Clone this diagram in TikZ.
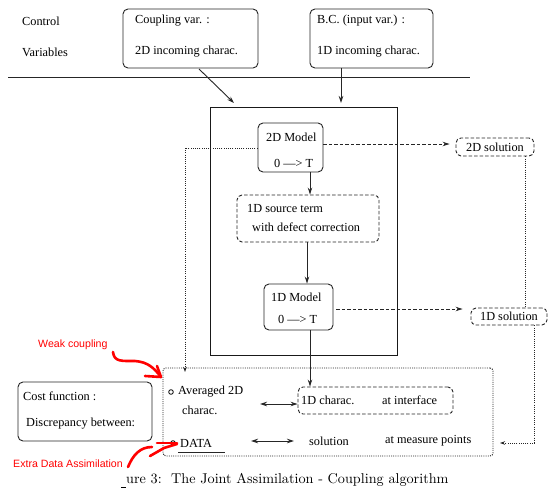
\documentclass[tikz,border=0pt]{standalone}
\usepackage{fontspec}
\setmainfont{Liberation Serif}
\newfontfamily\redfont{Liberation Sans}
\newfontfamily\capfont{lmroman10-regular}[Extension=.otf]
\usetikzlibrary{arrows.meta}
\begin{document}
\begin{tikzpicture}[x=1pt,y=-1pt,
  every node/.style={font=\fontsize{12.3}{14}\selectfont},
  txt/.style={anchor=west,inner sep=0pt},
  rbox/.style={draw=black!85,line width=0.9pt,rounded corners=5pt,inner sep=0pt},
  dbox/.style={draw=black!85,line width=0.9pt,rounded corners=5pt,dashed,dash pattern=on 3.5pt off 2pt,inner sep=0pt},
  arr/.style={-{Stealth[length=7pt,width=4.5pt]},line width=0.9pt,black!85},
  darr/.style={{Stealth[length=7pt,width=4.5pt]}-{Stealth[length=7pt,width=4.5pt]},line width=0.9pt,black!85},
  dasharr/.style={-{Stealth[length=7pt,width=4.5pt]},line width=0.9pt,black!85,dash pattern=on 3.5pt off 2pt},
  dotline/.style={line width=0.9pt,black!85,dash pattern=on 1pt off 1.2pt},
  redtxt/.style={anchor=west,inner sep=0pt,text=red,font=\redfont\fontsize{10.6}{12}\selectfont},
  redarr/.style={draw=red,line width=2.6pt,line cap=round,line join=round}
]
\useasboundingbox (0,0) rectangle (560,503);
\fill[white] (0,0) rectangle (560,503);

% top
\node[txt] (ctl) at (22,21) {Control};
\node[txt] (var) at (22,52) {Variables};
\node[rbox,minimum width=135pt,minimum height=59pt] (cv) at (190.5,38.5) {};
\node[txt] (cv1) at (135,21) {Coupling var. :};
\node[txt] (cv2) at (135,52) {2D incoming charac.};
\node[rbox,minimum width=123pt,minimum height=59pt] (bc) at (371.5,38.5) {};
\node[txt] (bc1) at (317,21) {B.C. (input var.) :};
\node[txt] (bc2) at (317,52) {1D incoming charac.};
\coordinate (l1) at (8,77);
\coordinate (l2) at (470,77);
\draw[line width=0.9pt,black!85] (l1) -- (l2);

% big box
\node[draw=black!90,line width=1pt,minimum width=187pt,minimum height=247pt,inner sep=0pt] (big) at (303.5,231.5) {};
\coordinate (cvend) at (234,103);
\coordinate (bcend) at (341,103);
\draw[arr] (199,69) -- (cvend);
\draw[arr] (bc.south -| bcend) -- (bcend);

% 2D model
\node[rbox,minimum width=65pt,minimum height=49pt] (m2) at (290.5,147.5) {};
\node[txt] at (266,137) {2D Model};
\node[txt] at (274,163) {0 ---> T};
% source
\node[dbox,minimum width=142pt,minimum height=47pt] (src) at (308,218.5) {};
\node[txt] at (247,208) {1D source term};
\node[txt] at (252,227) {with defect correction};
% 1D model
\node[rbox,minimum width=69pt,minimum height=46pt] (m1) at (298.5,307) {};
\node[txt] at (271,297) {1D Model};
\node[txt] at (278,319) {0 ---> T};

\draw[arr] (m2.south -| 310,0) -- (src.north -| 310,0);
\draw[arr] (src.south -| 307,0) -- (m1.north -| 307,0);

% solutions
\node[dbox,minimum width=78pt,minimum height=18pt] (s2) at (495,147) {2D solution};
\node[dbox,minimum width=76pt,minimum height=17pt] (s1) at (509,316.5) {1D solution};
\draw[dasharr] (m2.east |- 0,144) -- ([xshift=-6pt]s2.west |- 0,144);
\draw[dasharr] ([xshift=3pt]m1.east |- 0,309) -- ([xshift=-8pt]s1.west |- 0,309);
\draw[dotline] (s2.south -| 525,0) -- (s1.north -| 525,0);
\coordinate (mp) at (500,443);
\draw[dotline,-{Stealth[length=5pt,width=3.5pt]}] (s1.south -| 534,0) -- (534,443) -- (mp);

% cost area
\node[draw=black!85,line width=0.9pt,dash pattern=on 1pt off 1.2pt,rounded corners=3pt,minimum width=330pt,minimum height=88pt,inner sep=0pt] (area) at (328,412) {};
\coordinate (dtop) at (185,372);
\draw[dotline,-{Stealth[length=5pt,width=3.5pt]}] (m2.west |- 0,148) -- (185,148) -- (dtop);

\draw[line width=0.8pt] (171,392) circle (2.3pt);
\node[txt] (avg) at (178,392) {Averaged 2D};
\node[txt] (chr) at (182,410) {charac.};
\node[dbox,minimum width=155pt,minimum height=27pt] (ch1) at (375.5,400.5) {};
\node[txt] at (301,400) {1D charac.};
\node[txt] at (382,400) {at interface};
\draw[arr] (m1.south -| 310,0) -- (ch1.north -| 310,0);
\coordinate (da1) at (260,404);
\draw[darr] (da1) -- (ch1.west |- da1);

\draw[line width=0.8pt] (173,443) circle (2.3pt);
\node[txt] (data) at (180,443) {DATA};
\draw[line width=0.9pt,black!85] (178,452.5) -- (225,452.5);
\coordinate (db1) at (251,441);
\coordinate (db2) at (294,441);
\draw[darr] (db1) -- (db2);
\node[txt] (sol) at (309,441) {solution};
\node[txt] (amp) at (385,441) {at measure points};

% cost function
\node[rbox,minimum width=134pt,minimum height=59pt] (cost) at (85,411.5) {};
\node[txt] at (23,396) {Cost function :};
\node[txt] at (26,424) {Discrepancy between:};

% red annotations
\node[redtxt] (wc) at (38,345) {Weak coupling};
\node[redtxt] (eda) at (13,464) {Extra Data Assimilation};
\draw[redarr] (113,352) .. controls (114,362) and (122,361) .. (135,361)
  .. controls (148,362) and (154,368) .. (161,377);
\draw[redarr] (145,376) -- (161,377) -- (157,366);
\draw[redarr] (128,467) .. controls (133,455) and (140,447) .. (152,447);
\draw[redarr] (150,456) -- (164,448) -- (177,444);
\draw[redarr] (157,443) -- (177,443);

% caption
\draw[line width=0.8pt] (121,487) -- (126,487);
\node[anchor=west,inner sep=0pt,font=\capfont\fontsize{14.2}{16}\selectfont] (cap) at (126,480) {ure 3:\ \ The Joint Assimilation - Coupling algorithm};
\end{tikzpicture}
\end{document}
